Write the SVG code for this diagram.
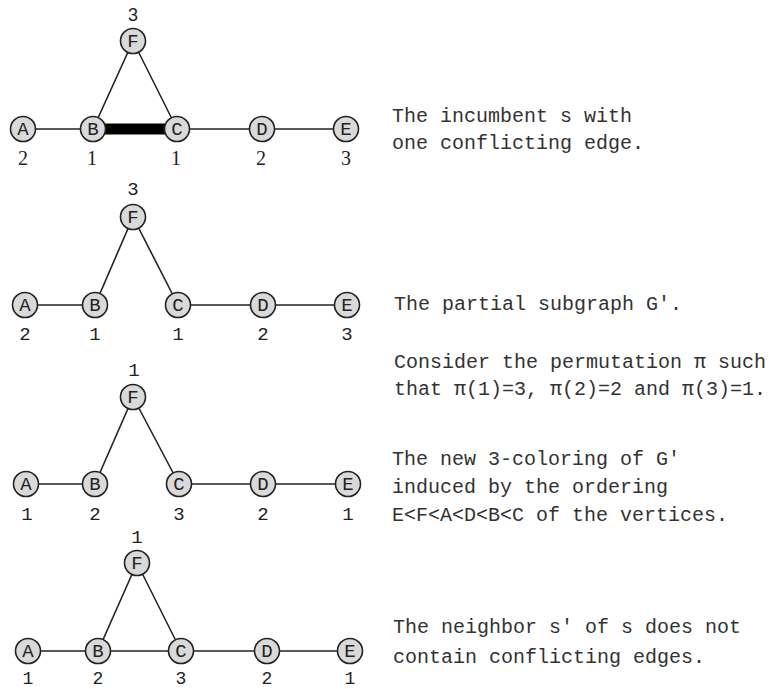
<svg xmlns="http://www.w3.org/2000/svg" width="770" height="689" viewBox="0 0 770 689">
<style>
.n circle{fill:#d9d9d9;stroke:#222;stroke-width:1.6}
.n text{font-family:"Liberation Mono",monospace;font-size:19px;fill:#222;text-anchor:middle}
.e line{stroke:#222;stroke-width:1.6}
.lbs{font-family:"Liberation Serif",serif;font-size:20px;fill:#222;text-anchor:middle}
.lbm{font-family:"Liberation Mono",monospace;font-size:19px;fill:#222;text-anchor:middle}
.cap{font-family:"Liberation Mono",monospace;font-size:20px;fill:#333}
</style>
<rect width="770" height="689" fill="#fff"/>

<!-- Graph 1 -->
<g id="g1-edges" class="e">
<line x1="23" y1="129" x2="93" y2="129"/>
<line x1="93" y1="129" x2="177" y2="129" style="stroke-width:11;stroke:#000"/>
<line x1="177" y1="129" x2="262" y2="129"/>
<line x1="262" y1="129" x2="346" y2="129"/>
<line x1="93" y1="129" x2="133" y2="41"/>
<line x1="177" y1="129" x2="133" y2="41"/>
</g>
<g id="g1-A" class="n"><circle cx="23" cy="129" r="12.5"/><text x="23" y="135">A</text></g>
<g id="g1-B" class="n"><circle cx="93" cy="129" r="12.5"/><text x="93" y="135">B</text></g>
<g id="g1-C" class="n"><circle cx="177" cy="129" r="12.5"/><text x="177" y="135">C</text></g>
<g id="g1-D" class="n"><circle cx="262" cy="129" r="12.5"/><text x="262" y="135">D</text></g>
<g id="g1-E" class="n"><circle cx="346" cy="129" r="12.5"/><text x="346" y="135">E</text></g>
<g id="g1-F" class="n"><circle cx="133" cy="41" r="12.5"/><text x="133" y="47">F</text></g>
<g id="g1-labels">
<text class="lbs" x="133" y="21" style="font-family:'Liberation Sans',sans-serif;font-size:18px">3</text>
<text class="lbs" x="23" y="165">2</text>
<text class="lbs" x="92" y="165">1</text>
<text class="lbs" x="176" y="165">1</text>
<text class="lbs" x="261" y="165">2</text>
<text class="lbs" x="346" y="165">3</text>
</g>

<!-- Graph 2 -->
<g id="g2-edges" class="e">
<line x1="25" y1="305" x2="95" y2="305"/>
<line x1="178" y1="305" x2="263" y2="305"/>
<line x1="263" y1="305" x2="347" y2="305"/>
<line x1="95" y1="305" x2="133" y2="217"/>
<line x1="178" y1="305" x2="133" y2="217"/>
</g>
<g id="g2-A" class="n"><circle cx="25" cy="305" r="12.5"/><text x="25" y="311">A</text></g>
<g id="g2-B" class="n"><circle cx="95" cy="305" r="12.5"/><text x="95" y="311">B</text></g>
<g id="g2-C" class="n"><circle cx="178" cy="305" r="12.5"/><text x="178" y="311">C</text></g>
<g id="g2-D" class="n"><circle cx="263" cy="305" r="12.5"/><text x="263" y="311">D</text></g>
<g id="g2-E" class="n"><circle cx="347" cy="305" r="12.5"/><text x="347" y="311">E</text></g>
<g id="g2-F" class="n"><circle cx="133" cy="217" r="12.5"/><text x="133" y="223">F</text></g>
<g id="g2-labels">
<text class="lbm" x="133" y="195">3</text>
<text class="lbm" x="25" y="340">2</text>
<text class="lbm" x="95" y="340">1</text>
<text class="lbm" x="178" y="340">1</text>
<text class="lbm" x="263" y="340">2</text>
<text class="lbm" x="347" y="340">3</text>
</g>

<!-- Graph 3 -->
<g id="g3-edges" class="e">
<line x1="26" y1="484" x2="95" y2="484"/>
<line x1="179" y1="484" x2="263" y2="484"/>
<line x1="263" y1="484" x2="348" y2="484"/>
<line x1="95" y1="484" x2="133" y2="397"/>
<line x1="179" y1="484" x2="133" y2="397"/>
</g>
<g id="g3-A" class="n"><circle cx="26" cy="484" r="12.5"/><text x="26" y="490">A</text></g>
<g id="g3-B" class="n"><circle cx="95" cy="484" r="12.5"/><text x="95" y="490">B</text></g>
<g id="g3-C" class="n"><circle cx="179" cy="484" r="12.5"/><text x="179" y="490">C</text></g>
<g id="g3-D" class="n"><circle cx="263" cy="484" r="12.5"/><text x="263" y="490">D</text></g>
<g id="g3-E" class="n"><circle cx="348" cy="484" r="12.5"/><text x="348" y="490">E</text></g>
<g id="g3-F" class="n"><circle cx="133" cy="397" r="12.5"/><text x="133" y="403">F</text></g>
<g id="g3-labels">
<text class="lbm" x="134" y="376">1</text>
<text class="lbm" x="27" y="520">1</text>
<text class="lbm" x="95" y="520">2</text>
<text class="lbm" x="179" y="520">3</text>
<text class="lbm" x="263" y="520">2</text>
<text class="lbm" x="348" y="520">1</text>
</g>

<!-- Graph 4 -->
<g id="g4-edges" class="e">
<line x1="28" y1="651" x2="98" y2="651"/>
<line x1="98" y1="651" x2="181" y2="651"/>
<line x1="181" y1="651" x2="267" y2="651"/>
<line x1="267" y1="651" x2="350" y2="651"/>
<line x1="98" y1="651" x2="137" y2="563"/>
<line x1="181" y1="651" x2="137" y2="563"/>
</g>
<g id="g4-A" class="n"><circle cx="28" cy="651" r="12.5"/><text x="28" y="657">A</text></g>
<g id="g4-B" class="n"><circle cx="98" cy="651" r="12.5"/><text x="98" y="657">B</text></g>
<g id="g4-C" class="n"><circle cx="181" cy="651" r="12.5"/><text x="181" y="657">C</text></g>
<g id="g4-D" class="n"><circle cx="267" cy="651" r="12.5"/><text x="267" y="657">D</text></g>
<g id="g4-E" class="n"><circle cx="350" cy="651" r="12.5"/><text x="350" y="657">E</text></g>
<g id="g4-F" class="n"><circle cx="137" cy="563" r="12.5"/><text x="137" y="569">F</text></g>
<g id="g4-labels">
<text class="lbm" x="137" y="543">1</text>
<text class="lbm" x="28" y="684" style="font-size:18px">1</text>
<text class="lbm" x="98" y="684" style="font-size:18px">2</text>
<text class="lbm" x="181" y="684" style="font-size:18px">3</text>
<text class="lbm" x="267" y="684" style="font-size:18px">2</text>
<text class="lbm" x="350" y="684" style="font-size:18px">1</text>
</g>

<!-- Captions -->
<g id="captions" class="cap">
<text x="392" y="122">The incumbent s with</text>
<text x="392" y="149">one conflicting edge.</text>
<text x="394" y="310">The partial subgraph G′.</text>
<text x="394" y="368">Consider the permutation π such</text>
<text x="394" y="395">that π(1)=3, π(2)=2 and π(3)=1.</text>
<text x="392" y="465">The new 3-coloring of G′</text>
<text x="392" y="493">induced by the ordering</text>
<text x="392" y="521">E&lt;F&lt;A&lt;D&lt;B&lt;C of the vertices.</text>
<text x="393" y="633">The neighbor s′ of s does not</text>
<text x="393" y="663">contain conflicting edges.</text>
</g>
</svg>
